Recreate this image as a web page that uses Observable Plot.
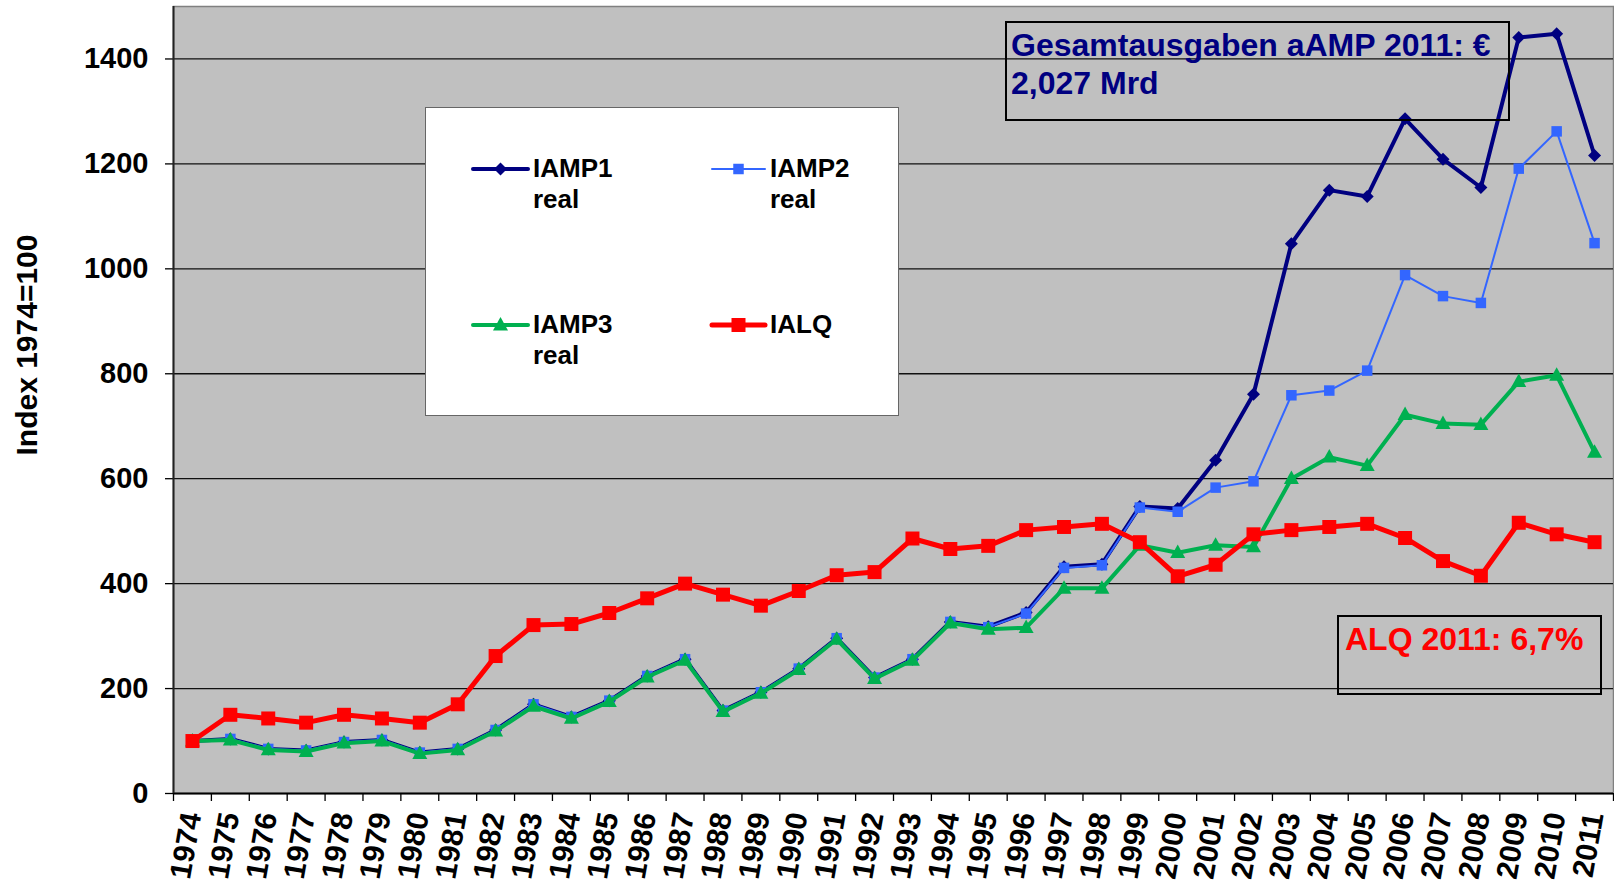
<!DOCTYPE html>
<html>
<head>
<meta charset="utf-8">
<script src="https://cdn.jsdelivr.net/npm/d3@7"></script>
<script src="https://cdn.jsdelivr.net/npm/@observablehq/plot@0.6"></script>
<style>
  html, body { margin:0; padding:0; background:#fff; overflow:hidden; }
  #wrap { position:relative; width:1614px; height:881px; font-family:"Liberation Sans", Arial, sans-serif; font-weight:bold; color:#000; }
  #chart svg { display:block; }
  .abs { position:absolute; white-space:nowrap; box-sizing:border-box; }
</style>
</head>
<body>
<div id="wrap">
  <div id="chart"></div>
</div>
<script>
// ---- data ----
const years = [1974,1975,1976,1977,1978,1979,1980,1981,1982,1983,1984,1985,1986,1987,1988,1989,1990,1991,1992,1993,1994,1995,1996,1997,1998,1999,2000,2001,2002,2003,2004,2005,2006,2007,2008,2009,2010,2011];
const iamp1 = [100,104,85,82,98,102,78,85,121,170,146,177,224,256,158,193,238,296,221,256,327,318,345,432,437,547,543,635,761,1048,1150,1138,1286,1209,1155,1441,1448,1216];
const iamp2 = [100,104,85,82,98,102,78,85,121,170,146,177,224,256,158,193,238,296,221,256,327,317,343,430,435,545,537,583,595,759,768,806,988,948,935,1191,1262,1049];
const iamp3 = [100,102,83,80,96,100,76,83,119,166,143,175,222,254,156,191,236,294,219,254,325,313,316,391,391,473,459,473,470,600,641,625,722,705,703,785,797,650];
const ialq  = [100,150,143,135,150,143,135,170,262,321,323,344,372,400,379,358,386,416,422,486,466,472,502,508,514,479,414,436,494,502,508,514,487,443,415,516,494,479];
const yTicks = [0,200,400,600,800,1000,1200,1400];
const seriesKeys = ["IAMP1","IAMP2","IAMP3","IALQ"];
const seriesLabels = [["IAMP1","real"],["IAMP2","real"],["IAMP3","real"],["IALQ"]];
const yTitle = "Index 1974=100";
const annotationAMP = ["Gesamtausgaben aAMP 2011: €", "2,027 Mrd"];
const annotationALQ = "ALQ 2011: 6,7%";

const rows = years.map((year, i) => ({year, IAMP1: iamp1[i], IAMP2: iamp2[i], IAMP3: iamp3[i], IALQ: ialq[i]}));
const boundaries = [years[0] - 0.5, ...years.map(y => y + 0.5)];

// ---- marker shapes ----
const diamondSym = {draw(ctx, size) { const h = Math.sqrt(size) / 2; ctx.moveTo(0, -h); ctx.lineTo(h, 0); ctx.lineTo(0, h); ctx.lineTo(-h, 0); ctx.closePath(); }};
const squareSym = {draw(ctx, size) { const h = Math.sqrt(size) / 2; ctx.rect(-h, -h, 2 * h, 2 * h); }};
const triSym = {draw(ctx, size) { const w = Math.sqrt(size); const h = w * 0.9; ctx.moveTo(0, -h * 0.6); ctx.lineTo(w / 2, h * 0.4); ctx.lineTo(-w / 2, h * 0.4); ctx.closePath(); }};

const styles = {
  IAMP1: {color: "#000080", width: 4, sym: diamondSym, px: 13},
  IAMP2: {color: "#3366FF", width: 2, sym: squareSym, px: 10.5},
  IAMP3: {color: "#00B050", width: 4, sym: triSym, px: 15},
  IALQ:  {color: "#FF0000", width: 5, sym: squareSym, px: 14}
};

const seriesMarks = seriesKeys.flatMap(k => [
  Plot.line(rows, {x: "year", y: k, stroke: styles[k].color, strokeWidth: styles[k].width, strokeLinejoin: "round"}),
  Plot.dot(rows, {x: "year", y: k, symbol: styles[k].sym, r: styles[k].px / Math.sqrt(Math.PI), fill: styles[k].color, stroke: "none"})
]);

const chart = Plot.plot({
  width: 1614,
  height: 881,
  marginLeft: 173,
  marginRight: 1,
  marginTop: 6,
  marginBottom: 88,
  style: {fontFamily: "'Liberation Sans', Arial, sans-serif", background: "#fff"},
  x: {type: "linear", domain: [boundaries[0], boundaries[boundaries.length - 1]], axis: null},
  y: {domain: [0, 1500], axis: null},
  marks: [
    Plot.frame({fill: "#C0C0C0", stroke: "#808080", strokeWidth: 1.5}),
    Plot.gridY(yTicks.slice(1), {stroke: "#111", strokeOpacity: 1, strokeWidth: 1.3}),
    Plot.axisY(yTicks, {tickSize: 8, tickPadding: 17, fontSize: 29, fontWeight: "bold", tickFormat: d => String(d), label: null, color: "#000", strokeWidth: 1.3}),
    Plot.axisX(boundaries, {tickSize: 8, tickFormat: () => "", label: null, color: "#000", strokeWidth: 1.3}),
    Plot.ruleY([0], {stroke: "#000", strokeWidth: 2}),
    Plot.ruleX([boundaries[0]], {stroke: "#222", strokeWidth: 2}),
    Plot.text(years, {x: d => d, text: d => String(d), frameAnchor: "bottom", rotate: -80, textAnchor: "end", dx: 9, dy: 21, fontSize: 30, fontWeight: "bold", fill: "#000"}),
    ...seriesMarks
  ]
});
document.getElementById("chart").appendChild(chart);

// ---- overlays ----
const wrap = document.getElementById("wrap");
function addDiv(css, html) {
  const d = document.createElement("div");
  d.className = "abs";
  Object.assign(d.style, css);
  d.innerHTML = html;
  wrap.appendChild(d);
  return d;
}

// y title
addDiv({left: "27px", top: "345px", fontSize: "30px", lineHeight: "30px", transform: "translate(-50%,-50%) rotate(-90deg)"}, yTitle);

// legend box
addDiv({left: "425px", top: "106.7px", width: "474px", height: "309.3px", background: "#fff", border: "1.5px solid #666"}, "");
const colX = [[473, 528, 533], [712, 765, 770]];
const rowY = [[169, 177.3], [325, 333]];
seriesKeys.forEach((k, i) => {
  const col = colX[i % 2], row = rowY[Math.floor(i / 2)];
  const st = styles[k];
  const svg = d3.create("svg").attr("width", 64).attr("height", 30)
    .style("position", "absolute").style("left", (col[0] - 4) + "px").style("top", (row[0] - 15) + "px");
  svg.append("line").attr("x1", 4).attr("x2", 4 + col[1] - col[0]).attr("y1", 15).attr("y2", 15)
    .attr("stroke", st.color).attr("stroke-width", st.width).attr("stroke-linecap", "round");
  svg.append("path").attr("transform", `translate(${4 + (col[1] - col[0]) / 2},15)`)
    .attr("d", d3.symbol(st.sym, st.px * st.px)()).attr("fill", st.color);
  wrap.appendChild(svg.node());
  addDiv({left: col[2] + "px", top: (row[1] - 24.1) + "px", fontSize: "26px", lineHeight: "31px"}, seriesLabels[i].join("<br>"));
});

// annotation AMP
addDiv({left: "1005px", top: "20.7px", width: "505px", height: "100.3px", border: "2px solid #000"}, "");
addDiv({left: "1011px", top: (56.7 - 29.4) + "px", fontSize: "32px", lineHeight: "37.6px", color: "#000080"}, annotationAMP.join("<br>"));

// annotation ALQ
addDiv({left: "1337px", top: "615px", width: "265px", height: "80px", border: "2px solid #000"}, "");
addDiv({left: "1345px", top: (650 - 29) + "px", fontSize: "32px", lineHeight: "36px", color: "#FF0000"}, annotationALQ);
</script>
</body>
</html>
